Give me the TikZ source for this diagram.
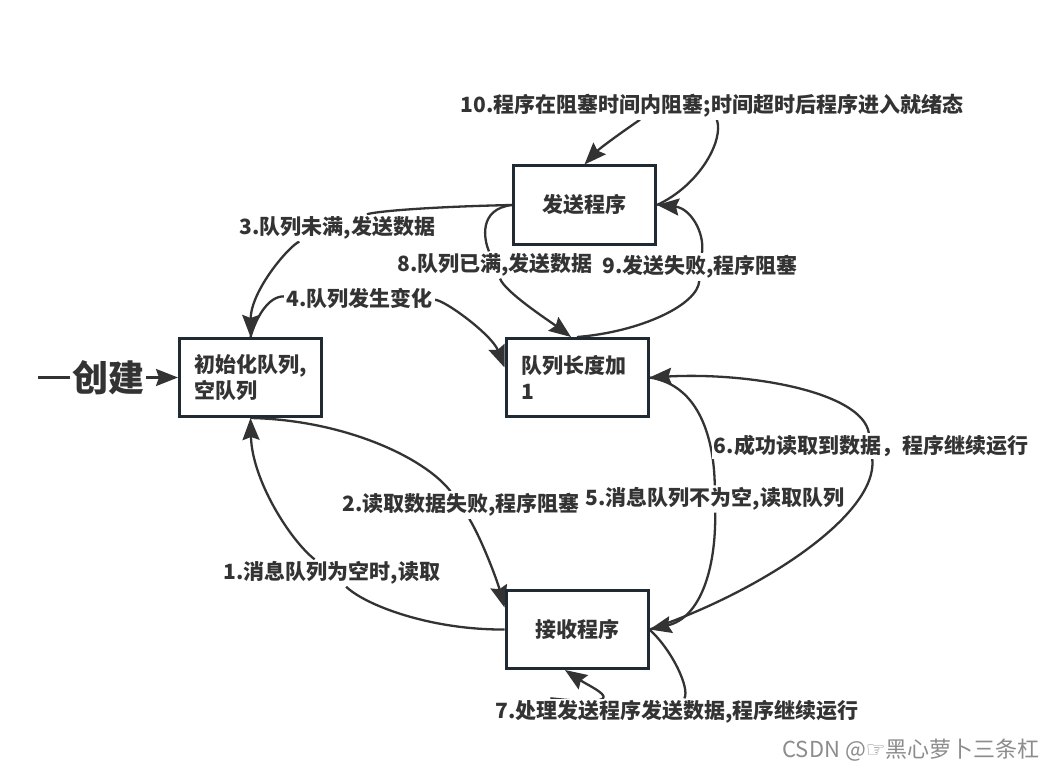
\documentclass[tikz,border=0pt]{standalone}
\usepackage{fontspec}
\setmainfont{Noto Sans CJK SC}
\newfontfamily\symfont{DejaVu Sans}
\usetikzlibrary{arrows.meta,backgrounds}
\definecolor{boxline}{HTML}{1F2A33}
\definecolor{inkgray}{HTML}{333333}
\definecolor{markgray}{HTML}{8C8C8C}

\begin{document}
\begin{tikzpicture}[x=1pt, y=-1pt,
    every node/.style={font=\bfseries\fontsize{21}{26}\selectfont, text=inkgray},
    procbox/.style={draw=boxline, line width=3pt, fill=white, minimum width=142pt, minimum height=78pt},
    lbl/.style={fill=white, inner sep=2pt},
    flow/.style={draw=inkgray, line width=2.3pt, line join=round, -{Stealth[length=22pt, width=17pt, inset=3pt]}}]
  \useasboundingbox (0,0) rectangle (1051,770);

  \node[procbox] (send) at (584.5,205) {发送程序};
  \node[procbox, align=left, text width=112pt, inner xsep=15pt] (init) at (250.5,377.5) {初始化队列,\\空队列};
  \node[procbox, align=left, text width=112pt, inner xsep=15pt] (inc) at (577,377.5) {队列长度加\\1};
  \node[procbox] (recv) at (577,629.5) {接收程序};
  \coordinate (create) at (38,377.5);

  \node[lbl] (l10) at (712,106) {10.程序在阻塞时间内阻塞;时间超时后程序进入就绪态};
  \node[lbl] (l3) at (337.5,228) {3.队列未满,发送数据};
  \node[lbl] (l8) at (495,265) {8.队列已满,发送数据};
  \node[lbl] (l9) at (700,267) {9.发送失败,程序阻塞};
  \node[lbl] (l4) at (359.5,298) {4.队列发生变化};
  \node[lbl] (l2) at (461,505) {2.读取数据失败,程序阻塞};
  \node[lbl] (l5) at (715,499) {5.消息队列不为空,读取队列};
  \node[lbl] (l6) at (871,446) {6.成功读取到数据，程序继续运行};
  \node[lbl] (l1) at (332,573) {1.消息队列为空时,读取};
  \node[lbl] (l7) at (677,712) {7.处理发送程序发送数据,程序继续运行};
  \node[font=\fontsize{22}{26}\selectfont, text=markgray] (mark) at (911,750) {CSDN @{\symfont ☞}黑心萝卜三条杠};

  \begin{scope}[on background layer]
    \fill[white] (0,0) rectangle (1051,770);
    \draw[flow] (create) -- node[lbl, font=\bfseries\fontsize{36}{40}\selectfont] {创建} (init.west);
    \draw[flow] (recv.west) .. controls (430,630) and (365,605) .. (l1) .. controls (290,540) and (252,480) .. (init.south);
    \draw[flow] (init.south) .. controls (345,420) and (425,458) .. (l2) .. controls (482,540) and (497,580) .. ([yshift=22pt]recv.west);
    \draw[flow] (send.west) .. controls (420,207) and (372,212) .. (l3) .. controls (290,245) and (251,290) .. (init.north);
    \draw[flow] (init.north) .. controls (256,318) and (268,296) .. (l4) .. controls (445,300) and (492,335) .. ([yshift=10pt]inc.west);
    \draw[flow] (inc.east) .. controls (700,385) and (714,440) .. (l5) .. controls (716,570) and (700,618) .. (recv.east);
    \draw[flow] (recv.east) .. controls (760,592) and (878,515) .. (l6) .. controls (862,392) and (750,372) .. (inc.east);
    \draw[flow] (recv.east) .. controls (672,650) and (690,688) .. (l7) .. controls (640,708) and (592,688) .. ([xshift=-12pt]recv.south);
    \draw[flow] (send.west) .. controls (478,209) and (484,240) .. (l8) .. controls (505,292) and (548,320) .. ([xshift=-6pt]inc.north);
    \draw[flow] (inc.north) .. controls (640,332) and (698,305) .. (l9) .. controls (705,232) and (690,208) .. (send.east);
    \draw[flow] (send.east) .. controls (700,185) and (724,140) .. (l10) -- ([xshift=-72pt]l10.south) .. controls (622,132) and (600,148) .. (send.north);
  \end{scope}
\end{tikzpicture}
\end{document}
